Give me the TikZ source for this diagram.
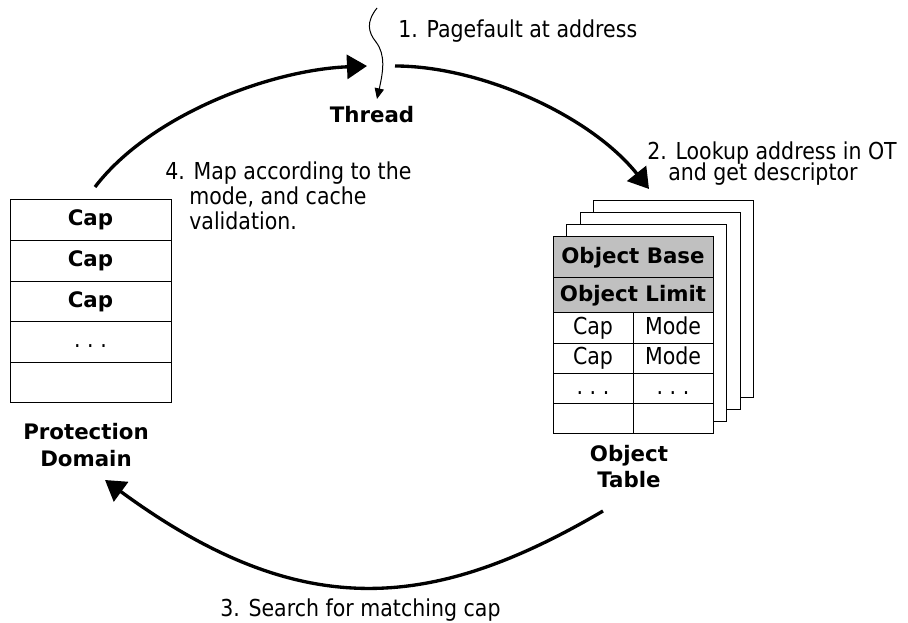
\documentclass[tikz,border=0pt]{standalone}
\usepackage{fontspec}
\setmainfont{DejaVu Sans}
\newfontfamily\regfont{DejaVu Sans}[FakeStretch=0.88]
\usetikzlibrary{arrows.meta}
\definecolor{cellgray}{RGB}{192,192,192}
\begin{document}
\begin{tikzpicture}[x=0.75pt,y=-0.75pt,
  boldtxt/.style={font=\fontsize{16}{20}\selectfont\bfseries, inner sep=0pt},
  regtxt/.style={font=\regfont\fontsize{17.5}{20}\selectfont, inner sep=0pt},
  pdcell/.style={draw=black, line width=0.75pt, fill=white, minimum width=120.75pt, minimum height=30.45pt, inner sep=0pt, text height=11.5pt, text depth=3pt, font=\fontsize{16}{19}\selectfont\bfseries},
  sheet/.style={draw=black, line width=0.75pt, fill=white, minimum width=120pt, minimum height=147.75pt, inner sep=0pt},
  graycell/.style={draw=black, line width=0.75pt, fill=cellgray, minimum width=120pt, inner sep=0pt, text height=11.5pt, text depth=3pt, font=\fontsize{16}{19}\selectfont\bfseries},
  otcell/.style={draw=black, line width=0.75pt, fill=white, minimum width=60pt, inner sep=0pt, text height=12.5pt, text depth=3.5pt, font=\regfont\fontsize{17.5}{20}\selectfont},
  bigarrow/.style={line width=2.5pt, -{Triangle[length=15pt, width=18pt]}},
  thinarrow/.style={line width=0.75pt, -{Triangle[length=8pt, width=7pt]}}
]
\useasboundingbox (0,0) rectangle (908,623);

% Protection domain
\node[pdcell] (pd1) at (90.5,220.3) {Cap};
\node[pdcell] (pd2) at (90.5,260.9) {Cap};
\node[pdcell] (pd3) at (90.5,301.5) {Cap};
\node[pdcell, font=\regfont\fontsize{17.5}{20}\selectfont] (pd4) at (90.5,342.1) {.\ .\ .};
\node[pdcell] (pd5) at (90.5,382.7) {};
\node[boldtxt, anchor=base] (pdl1) at (86,440) {Protection};
\node[boldtxt, anchor=base] (pdl2) at (86,467) {Domain};

% Object table sheets
\node[sheet] (s3) at (673.5,299.5) {};
\node[sheet] (s2) at (660,311.5) {};
\node[sheet] (s1) at (646.5,323.5) {};
\node[sheet] (s0) at (633,335.5) {};
\node[graycell, minimum height=30.75pt] (ob) at (633,257.5) {Object Base};
\node[graycell, minimum height=26.25pt] (ol) at (633,295.5) {Object Limit};
\node[otcell, minimum height=23.25pt] (c1) at (593,328.5) {Cap};
\node[otcell, minimum height=23.25pt] (m1) at (673,328.5) {Mode};
\node[otcell, minimum height=22.5pt] (c2) at (593,359) {Cap};
\node[otcell, minimum height=22.5pt] (m2) at (673,359) {Mode};
\node[otcell, minimum height=22.5pt] (c3) at (593,389) {.\ .\ .};
\node[otcell, minimum height=22.5pt] (m3) at (673,389) {.\ .\ .};
\node[otcell, minimum height=22.5pt] (c4) at (593,419) {};
\node[otcell, minimum height=22.5pt] (m4) at (673,419) {};
\node[boldtxt, anchor=base] (otl1) at (629,462) {Object};
\node[boldtxt, anchor=base] (otl2) at (629,488) {Table};

% Thread
\node[boldtxt, anchor=base] (thread) at (372,123) {Thread};
\coordinate (pf0) at (377,8);
\coordinate (pf1) at (376,42);
\coordinate (pf2) at (377,99);
\draw[line width=0.75pt] (pf0) .. controls (366,22) and (368,32) .. (pf1);
\draw[thinarrow] (pf1) .. controls (386,55) and (383,72) .. (pf2);

% Step labels
\node[regtxt, anchor=base west] (t1) at (398,38) {1. Pagefault at address};
\node[regtxt, anchor=base west] (t2a) at (647,160) {2. Lookup address in OT};
\node[regtxt, anchor=base west] (t2b) at (668,181) {and get descriptor};
\node[regtxt, anchor=base west] (t3) at (220,617) {3. Search for matching cap};
\node[regtxt, anchor=base west] (t4a) at (165,180) {4. Map according to the};
\node[regtxt, anchor=base west] (t4b) at (189,205) {mode, and cache};
\node[regtxt, anchor=base west] (t4c) at (189,230) {validation.};

% Cycle arcs
\coordinate (a4s) at (95,187);
\coordinate (a4e) at (367,66);
\coordinate (a1s) at (395,66);
\coordinate (a1e) at (649,189);
\coordinate (a3s) at (603,511);
\coordinate (a3e) at (105,480);
\draw[bigarrow] (a4s) .. controls (150,115) and (270,70) .. (a4e);
\draw[bigarrow] (a1s) .. controls (480,66) and (590,115) .. (a1e);
\draw[bigarrow] (a3s) .. controls (431,612) and (300,623) .. (a3e);
\end{tikzpicture}
\end{document}
